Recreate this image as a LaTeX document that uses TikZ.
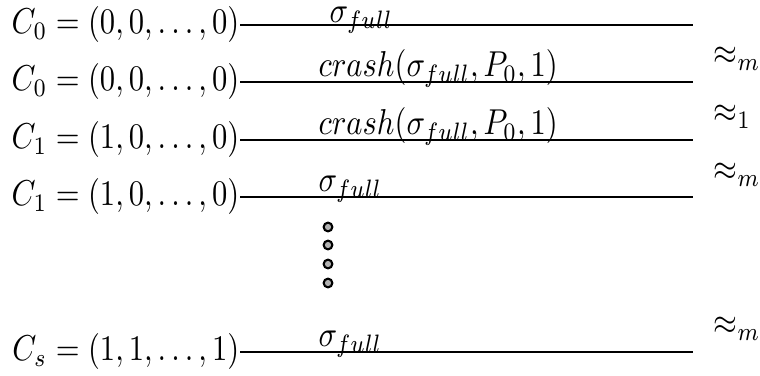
\documentclass[tikz,border=0pt]{standalone}
\usepackage{graphicx}
\newcommand{\tallx}[1]{\scalebox{1.02}[1.2]{#1}}
\begin{document}
\begin{tikzpicture}[x=0.3333pt,y=-0.3333pt,
  lab/.style={anchor=east,inner sep=0pt},
  seq/.style={anchor=base west,inner sep=0pt},
  rel/.style={anchor=west,inner sep=0pt},
  ln/.style={line width=0.6pt},
  dotc/.style={circle,draw=black,fill=gray!60,line width=0.7pt,inner sep=0pt,minimum size=2.9pt}]
\useasboundingbox (0,0) rectangle (760,376);
% left labels
\node[lab] (L1) at (240,25) {\tallx{$C_0=(0,0,\ldots,0)$}};
\node[lab] (L2) at (240,82) {\tallx{$C_0=(0,0,\ldots,0)$}};
\node[lab] (L3) at (240,140) {\tallx{$C_1=(1,0,\ldots,0)$}};
\node[lab] (L4) at (240,197) {\tallx{$C_1=(1,0,\ldots,0)$}};
\node[lab] (L5) at (240,352) {\tallx{$C_s=(1,1,\ldots,1)$}};
% right ends
\coordinate (R1) at (693,25);
\coordinate (R2) at (693,82);
\coordinate (R3) at (693,140);
\coordinate (R4) at (693,197);
\coordinate (R5) at (693,352);
\draw[ln] (L1.east) -- (R1);
\draw[ln] (L2.east) -- (R2);
\draw[ln] (L3.east) -- (R3);
\draw[ln] (L4.east) -- (R4);
\draw[ln] (L5.east) -- (R5);
% labels on lines
\node[seq] (S1) at (329,23) {\tallx{$\sigma_{full}$}};
\node[seq] (S2) at (318,77) {\tallx{$crash(\sigma_{full},P_0,1)$}};
\node[seq] (S3) at (318,135) {\tallx{$crash(\sigma_{full},P_0,1)$}};
\node[seq] (S4) at (318,192) {\tallx{$\sigma_{full}$}};
\node[seq] (S5) at (318,347) {\tallx{$\sigma_{full}$}};
% relations
\node[rel] (A1) at (713,59) {\tallx{$\approx_m$}};
\node[rel] (A2) at (713,117) {\tallx{$\approx_1$}};
\node[rel] (A3) at (713,175) {\tallx{$\approx_m$}};
\node[rel] (A4) at (713,329) {\tallx{$\approx_m$}};
% dots
\node[dotc] (D1) at (328,227) {};
\node[dotc] (D2) at (328,245) {};
\node[dotc] (D3) at (328,264) {};
\node[dotc] (D4) at (328,283) {};
\end{tikzpicture}
\end{document}
